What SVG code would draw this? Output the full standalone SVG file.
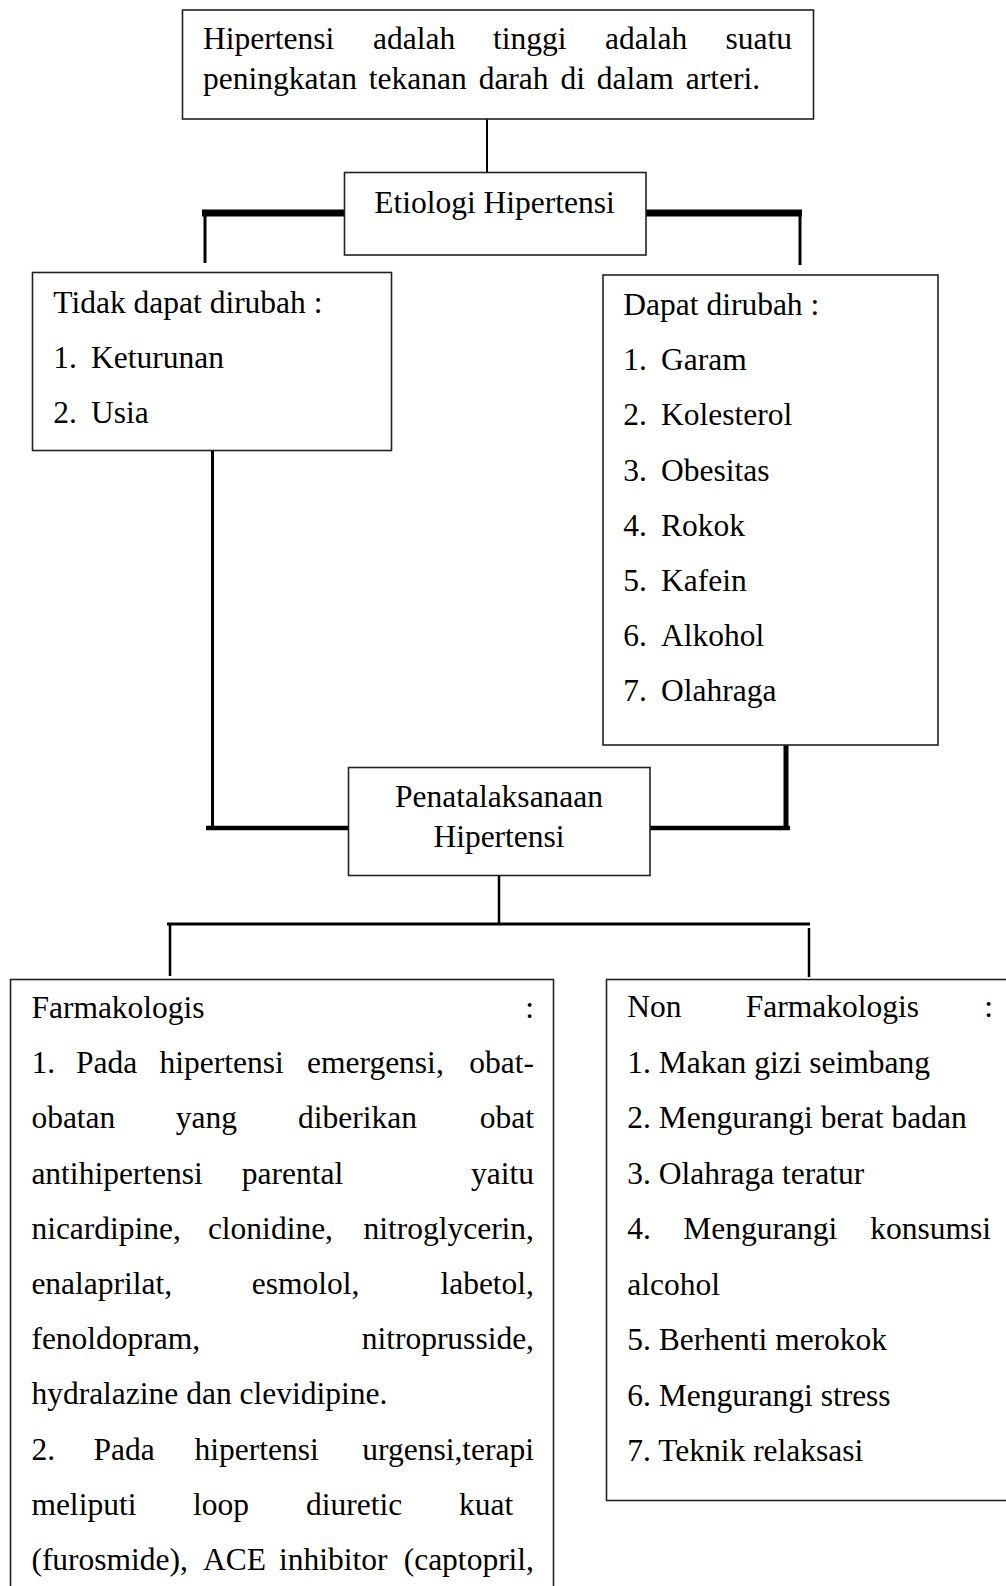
<svg xmlns="http://www.w3.org/2000/svg" width="1006" height="1586" viewBox="0 0 1006 1586">
<style>
.box{fill:#fff;stroke:#222;stroke-width:1.6}
.t{font-family:"Liberation Serif","Times New Roman",serif;font-size:31.5px;fill:#000}
.c{stroke:#000;fill:none;stroke-linecap:butt}
.e{text-anchor:end}
.m{text-anchor:middle}
</style>
<rect width="1006" height="1586" fill="#fff"/>
<g id="connectors">
<line class="c" x1="487" y1="119" x2="487" y2="172.5" stroke-width="2"/>
<line class="c" x1="202" y1="213" x2="344.5" y2="213" stroke-width="7"/>
<line class="c" x1="646" y1="213" x2="802" y2="213" stroke-width="7"/>
<line class="c" x1="205" y1="213" x2="205" y2="263" stroke-width="3"/>
<line class="c" x1="800" y1="213" x2="800" y2="265" stroke-width="3"/>
<line class="c" x1="212.5" y1="451" x2="212.5" y2="830" stroke-width="3"/>
<line class="c" x1="206" y1="828" x2="348.5" y2="828" stroke-width="4.5"/>
<line class="c" x1="786" y1="745" x2="786" y2="830" stroke-width="5"/>
<line class="c" x1="650" y1="828" x2="790" y2="828" stroke-width="4.5"/>
<line class="c" x1="499" y1="876" x2="499" y2="925" stroke-width="2.5"/>
<line class="c" x1="167" y1="924" x2="810" y2="924" stroke-width="3"/>
<line class="c" x1="170" y1="924" x2="170" y2="976" stroke-width="2.5"/>
<line class="c" x1="809" y1="928" x2="809" y2="977" stroke-width="2.5"/>
</g>
<g id="node-definisi">
<rect class="box" x="182.5" y="10" width="631" height="109"/>
<text class="t" y="49"><tspan x="203">Hipertensi</tspan><tspan x="373">adalah</tspan><tspan x="493">tinggi</tspan><tspan x="605">adalah</tspan><tspan x="792" text-anchor="end">suatu</tspan></text>
<text class="t" x="203" y="88.5" word-spacing="4">peningkatan tekanan darah di dalam arteri.</text>
</g>
<g id="node-etiologi">
<rect class="box" x="344.5" y="172.5" width="301.5" height="82.5"/>
<text class="t m" x="494.5" y="212.5">Etiologi Hipertensi</text>
</g>
<g id="node-tidak-dapat">
<rect class="box" x="32.5" y="272.5" width="359" height="178"/>
<text class="t" x="53.3" y="312.7">Tidak dapat dirubah :</text>
<text class="t" y="367.5"><tspan x="53.3">1.</tspan><tspan x="91">Keturunan</tspan></text>
<text class="t" y="422.5"><tspan x="53.3">2.</tspan><tspan x="91">Usia</tspan></text>
</g>
<g id="node-dapat">
<rect class="box" x="603" y="275" width="335" height="470"/>
<text class="t" x="623.3" y="315">Dapat dirubah :</text>
<text class="t" y="370.2"><tspan x="623.3">1.</tspan><tspan x="661">Garam</tspan></text>
<text class="t" y="425.4"><tspan x="623.3">2.</tspan><tspan x="661">Kolesterol</tspan></text>
<text class="t" y="480.6"><tspan x="623.3">3.</tspan><tspan x="661">Obesitas</tspan></text>
<text class="t" y="535.8"><tspan x="623.3">4.</tspan><tspan x="661">Rokok</tspan></text>
<text class="t" y="591"><tspan x="623.3">5.</tspan><tspan x="661">Kafein</tspan></text>
<text class="t" y="646.2"><tspan x="623.3">6.</tspan><tspan x="661">Alkohol</tspan></text>
<text class="t" y="701.4"><tspan x="623.3">7.</tspan><tspan x="661">Olahraga</tspan></text>
</g>
<g id="node-penatalaksanaan">
<rect class="box" x="348.5" y="767.5" width="301.5" height="108"/>
<text class="t m" x="499" y="806.7">Penatalaksanaan</text>
<text class="t m" x="499" y="846.7">Hipertensi</text>
</g>
<g id="node-farmakologis">
<rect class="box" x="10.5" y="979.5" width="543" height="640"/>
<text class="t" y="1018"><tspan x="31.4">Farmakologis</tspan><tspan x="534" text-anchor="end">:</tspan></text>
<text class="t" y="1073.2"><tspan x="31.4">1.</tspan><tspan x="76">Pada</tspan><tspan x="159.6">hipertensi</tspan><tspan x="307">emergensi,</tspan><tspan x="534" text-anchor="end">obat-</tspan></text>
<text class="t" y="1128.4"><tspan x="31.4">obatan</tspan><tspan x="175.7">yang</tspan><tspan x="298">diberikan</tspan><tspan x="534" text-anchor="end">obat</tspan></text>
<text class="t" y="1183.6"><tspan x="31.4">antihipertensi</tspan><tspan x="241.8">parental</tspan><tspan x="534" text-anchor="end">yaitu</tspan></text>
<text class="t" y="1238.8"><tspan x="31.4">nicardipine,</tspan><tspan x="207.9">clonidine,</tspan><tspan x="534" text-anchor="end">nitroglycerin,</tspan></text>
<text class="t" y="1294"><tspan x="31.4">enalaprilat,</tspan><tspan x="251.8">esmolol,</tspan><tspan x="534" text-anchor="end">labetol,</tspan></text>
<text class="t" y="1349.2"><tspan x="31.4">fenoldopram,</tspan><tspan x="534" text-anchor="end">nitroprusside,</tspan></text>
<text class="t" x="31.4" y="1404.4">hydralazine dan clevidipine.</text>
<text class="t" y="1459.6"><tspan x="31.4">2.</tspan><tspan x="93.6">Pada</tspan><tspan x="194.6">hipertensi</tspan><tspan x="534" text-anchor="end">urgensi,terapi</tspan></text>
<text class="t" y="1514.8"><tspan x="31.4">meliputi</tspan><tspan x="192.9">loop</tspan><tspan x="306">diuretic</tspan><tspan x="459">kuat</tspan></text>
<text class="t" y="1570"><tspan x="31.4">(furosmide),</tspan><tspan x="203">ACE</tspan><tspan x="279">inhibitor</tspan><tspan x="534" text-anchor="end">(captopril,</tspan></text>
</g>
<g id="node-non-farmakologis">
<rect class="box" x="606.5" y="979.5" width="420" height="521"/>
<text class="t" y="1017"><tspan x="627.3">Non</tspan><tspan x="745.7">Farmakologis</tspan><tspan x="993" text-anchor="end">:</tspan></text>
<text class="t" x="627.3" y="1072.5">1. Makan gizi seimbang</text>
<text class="t" x="627.3" y="1128">2. Mengurangi berat badan</text>
<text class="t" x="627.3" y="1183.5">3. Olahraga teratur</text>
<text class="t" y="1239"><tspan x="627.3">4.</tspan><tspan x="683.3">Mengurangi</tspan><tspan x="991" text-anchor="end">konsumsi</tspan></text>
<text class="t" x="627.3" y="1294.5">alcohol</text>
<text class="t" x="627.3" y="1350">5. Berhenti merokok</text>
<text class="t" x="627.3" y="1405.5">6. Mengurangi stress</text>
<text class="t" x="627.3" y="1461">7. Teknik relaksasi</text>
</g>
</svg>
